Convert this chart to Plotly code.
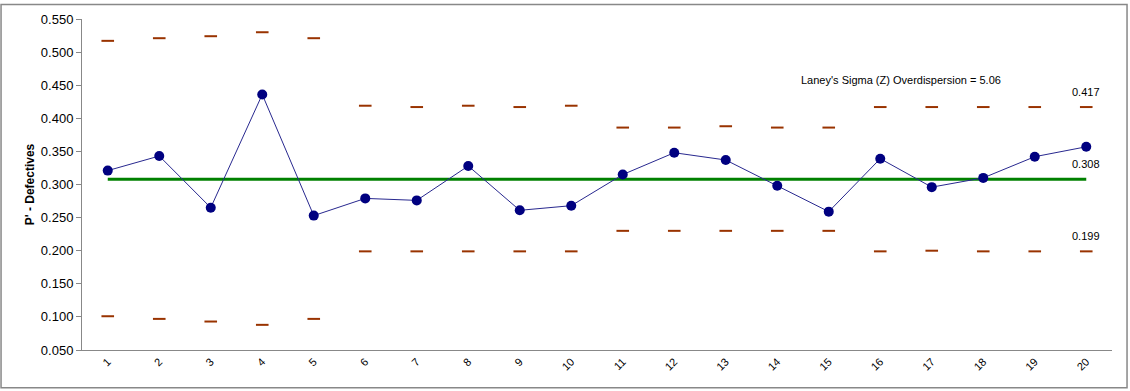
import plotly.graph_objects as go

samples = list(range(1, 21))
p_values = [0.321, 0.343, 0.265, 0.436, 0.253, 0.279, 0.276, 0.328, 0.261, 0.268,
            0.315, 0.348, 0.337, 0.298, 0.259, 0.339, 0.296, 0.310, 0.342, 0.357]
ucl = [0.517, 0.521, 0.524, 0.530, 0.521, 0.419, 0.417, 0.419, 0.417, 0.419,
       0.386, 0.386, 0.388, 0.386, 0.386, 0.417, 0.417, 0.417, 0.417, 0.417]
lcl = [0.101, 0.097, 0.093, 0.088, 0.097, 0.199, 0.199, 0.199, 0.199, 0.199,
       0.230, 0.230, 0.230, 0.230, 0.230, 0.199, 0.200, 0.199, 0.199, 0.199]
center = 0.308
sigma_z = 5.06
y_ticks = [0.05, 0.10, 0.15, 0.20, 0.25, 0.30, 0.35, 0.40, 0.45, 0.50, 0.55]

FONT = "Arial, Liberation Sans, sans-serif"
fig = go.Figure()

fig.add_trace(go.Scatter(x=samples, y=[center] * len(samples), mode="lines",
                         line=dict(color="#008000", width=3), hoverinfo="skip"))
fig.add_trace(go.Scatter(x=samples, y=ucl, mode="markers",
                         marker=dict(symbol="line-ew", size=9,
                                     line=dict(color="#993300", width=2))))
fig.add_trace(go.Scatter(x=samples, y=lcl, mode="markers",
                         marker=dict(symbol="line-ew", size=9,
                                     line=dict(color="#993300", width=2))))
fig.add_trace(go.Scatter(x=samples, y=p_values, mode="lines+markers",
                         line=dict(color="#28288f", width=1),
                         marker=dict(color="#000080", size=10)))

fig.add_annotation(x=samples[-1], y=ucl[-1], text=f"{ucl[-1]:.3f}", showarrow=False,
                   yshift=15, font=dict(family=FONT, size=11, color="black"))
fig.add_annotation(x=samples[-1], y=center, text=f"{center:.3f}", showarrow=False,
                   yshift=15, font=dict(family=FONT, size=11, color="black"))
fig.add_annotation(x=samples[-1], y=lcl[-1], text=f"{lcl[-1]:.3f}", showarrow=False,
                   yshift=15, font=dict(family=FONT, size=11, color="black"))
fig.add_annotation(x=16.4, y=0.458, text=f"Laney's Sigma (Z) Overdispersion = {sigma_z:.2f}",
                   showarrow=False, font=dict(family=FONT, size=11, color="black"))

fig.add_shape(type="rect", xref="paper", yref="paper",
              x0=-0.0786, x1=1.0146, y0=-0.114, y1=1.044,
              line=dict(color="#888888", width=1.5), fillcolor="rgba(0,0,0,0)")

fig.update_layout(
    width=1130, height=391,
    margin=dict(l=82, r=18, t=17, b=41),
    paper_bgcolor="white", plot_bgcolor="white",
    showlegend=False,
    font=dict(family=FONT, size=12, color="black"),
    xaxis=dict(range=[0.5, 20.5], tickvals=samples, ticktext=[str(s) for s in samples],
               tickangle=-45, showgrid=False, zeroline=False,
               showline=True, linecolor="#888888", linewidth=1,
               ticks="", tickfont=dict(family=FONT, size=11)),
    yaxis=dict(range=[0.05, 0.55], tickvals=y_ticks, tickformat=".3f",
               showgrid=False, zeroline=False,
               showline=True, linecolor="#888888", linewidth=1,
               ticks="outside", ticklen=5, tickcolor="#888888",
               tickfont=dict(family=FONT, size=13),
               title=dict(text="<b>P' - Defectives</b>", standoff=3,
                          font=dict(family=FONT, size=12))),
)

fig.write_html("out.html", config={"displayModeBar": False},
               post_script="document.body.style.margin='0';document.body.style.overflow='hidden';")
